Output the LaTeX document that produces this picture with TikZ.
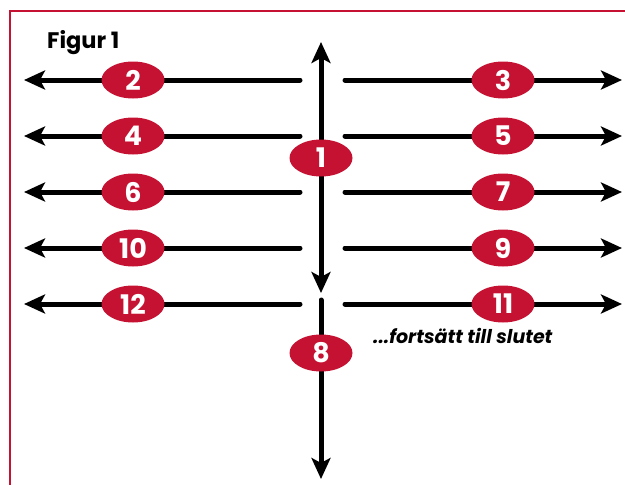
\documentclass[tikz,border=0pt]{standalone}
\usepackage{fontspec}
\setmainfont{Poppins}
\usetikzlibrary{arrows.meta,shapes.geometric}
\definecolor{figred}{RGB}{198,18,50}
\tikzset{
  num/.style={ellipse, fill=figred, minimum width=63pt, minimum height=37pt, inner sep=0pt,
    text=white, font=\fontsize{27}{27}\selectfont\bfseries},
  arr/.style={line width=5pt, -{Stealth[length=21pt,width=19pt,inset=5pt]}},
}
\begin{document}
\begin{tikzpicture}[x=1pt,y=-1pt]
\useasboundingbox (0,0) rectangle (625,485);
% border
\draw[figred, line width=2pt] (10,485) -- (10,11) -- (625,11);
\node[anchor=base west, inner sep=0pt, font=\fontsize{22.5}{22.5}\selectfont\bfseries] (title) at (47,48) {Figur 1};
% horizontal rows
\foreach \yy/\l/\r in {80/2/3, 136/4/5, 192/6/7, 248/10/9, 304/12/11} {
  \coordinate (L\l) at (300,\yy);
  \coordinate (Lt\l) at (24,\yy);
  \coordinate (R\r) at (345,\yy);
  \coordinate (Rt\r) at (622,\yy);
  \draw[arr, line cap=round] (L\l) -- (Lt\l);
  \draw[arr, line cap=round] (R\r) -- (Rt\r);
  \node[num] (n\l) at (133,\yy) {\l};
  \node[num] (n\r) at (503,\yy) {\r};
}
% vertical
\coordinate (vtop) at (321,42);
\coordinate (vbot) at (321,293);
\draw[line width=5pt, {Stealth[length=21pt,width=19pt,inset=5pt]}-{Stealth[length=21pt,width=19pt,inset=5pt]}] (vbot) -- (vtop);
\node[num] (n1) at (321,158) {1};
\coordinate (v2top) at (321,300);
\coordinate (v2bot) at (321,479);
\draw[arr, line cap=round] (v2top) -- (v2bot);
\node[num] (n8) at (321,353) {8};
\node[anchor=base west, inner sep=0pt, font=\fontsize{19}{19}\selectfont\bfseries\itshape] (cont) at (373,343) {...fortsätt till slutet};
\end{tikzpicture}
\end{document}
